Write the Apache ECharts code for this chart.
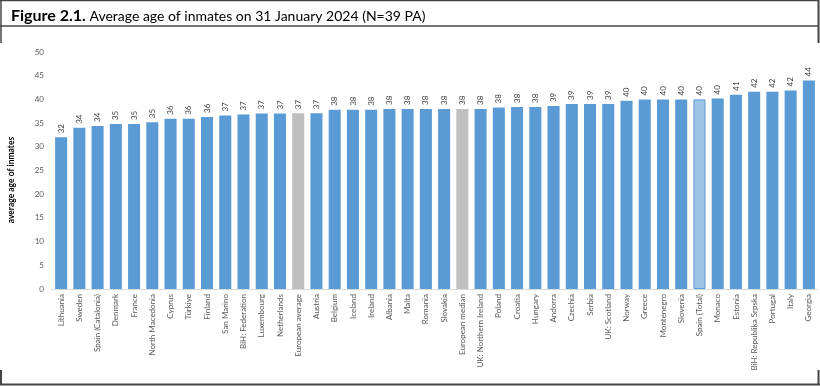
<!DOCTYPE html>
<html><head><meta charset="utf-8">
<script src="https://cdn.jsdelivr.net/npm/echarts@6/dist/echarts.min.js"></script>
<style>html,body{margin:0;padding:0;background:#fff}#c{width:820px;height:386px}</style>
</head><body><div id="c"></div>
<script>
const categories = ["Lithuania","Sweden","Spain (Catalonia)","Denmark","France","North Macedonia","Cyprus","Türkiye","Finland","San Marino","BiH: Federation","Luxembourg","Netherlands","European average","Austria","Belgium","Iceland","Ireland","Albania","Malta","Romania","Slovakia","European median","UK: Northern Ireland","Poland","Croatia","Hungary","Andorra","Czechia","Serbia","UK: Scotland","Norway","Greece","Montenegro","Slovenia","Spain (Total)","Monaco","Estonia","BiH: Republika Srpska","Portugal","Italy","Georgia"];
const values = [32.0,34.0,34.4,34.8,34.8,35.2,35.9,35.9,36.3,36.6,36.8,37.0,37.0,37.1,37.1,37.8,37.8,37.8,38.0,38.0,38.0,38.0,38.0,38.0,38.3,38.4,38.4,38.6,39.05,39.05,39.05,39.7,39.96,40.0,40.0,40.0,40.2,41.0,41.6,41.6,41.9,44.0];
const yTicks = [0,5,10,15,20,25,30,35,40,45,50];
const referenceCats = ["European average","European median"];
const highlightCats = ["Spain (Total)"];

const chart = echarts.init(document.getElementById('c'), null, {renderer:'canvas'});
const FONT = 'Lato';
const data = values.map((v,i)=>{
  const c = categories[i];
  let style = {color:'#5b9bd5'};
  if (referenceCats.includes(c)) style = {color:'#bfbfbf'};
  if (highlightCats.includes(c)) style = {color:'#9dc3e6', borderColor:'#5b9bd5', borderWidth:1};
  return {value:v, itemStyle:style};
});
chart.setOption({
  animation:false,
  backgroundColor:'#fff',
  title:{
    text:'{b|Figure 2.1.}{r| Average age of inmates on 31 January 2024 (N=39 PA)}',
    left:6, top:3,
    textStyle:{fontWeight:'normal', rich:{
      b:{fontFamily:FONT,fontWeight:'bold',fontSize:16,color:'#000'},
      r:{fontFamily:FONT,fontWeight:'normal',fontSize:14,color:'#000'}
    }}
  },
  grid:{left:52, right:2, top:52, bottom:97, containLabel:false},
  xAxis:{
    type:'category', data:categories,
    axisLine:{lineStyle:{color:'#d9d9d9'}},
    axisTick:{show:false},
    axisLabel:{rotate:90, interval:0, fontFamily:FONT, fontSize:8, color:'#595959', margin:5}
  },
  yAxis:{
    type:'value', min:0, max:50, interval:5,
    axisLine:{show:false}, axisTick:{show:false}, splitLine:{show:false},
    axisLabel:{fontFamily:FONT, fontSize:8, color:'#595959', margin:8,
      formatter:v=>yTicks.includes(v)?String(v):''}
  },
  series:[{
    type:'bar', data:data, barCategoryGap:'34%',
    label:{show:true, position:'top', rotate:90, align:'left', verticalAlign:'middle', distance:4,
      fontFamily:FONT, fontSize:8, color:'#404040',
      formatter:p=>String(Math.round(p.value))}
  }],
  graphic:[
    {type:'text', x:11, y:180, rotation:Math.PI/2, style:{text:'average age of inmates', font:'bold 8.5px Lato', fill:'#000', align:'center', verticalAlign:'middle'}},
    {type:'line', shape:{x1:0,y1:0.5,x2:819,y2:0.5}, style:{stroke:'#444',lineWidth:1.5}},
    {type:'line', shape:{x1:0,y1:26,x2:819,y2:26}, style:{stroke:'#444',lineWidth:1.5}},
    {type:'line', shape:{x1:1,y1:0,x2:1,y2:43}, style:{stroke:'#444',lineWidth:1.5}},
    {type:'line', shape:{x1:818.5,y1:0,x2:818.5,y2:43}, style:{stroke:'#444',lineWidth:2}},
    {type:'line', shape:{x1:1,y1:370,x2:1,y2:385}, style:{stroke:'#444',lineWidth:2}},
    {type:'line', shape:{x1:818.5,y1:370,x2:818.5,y2:385}, style:{stroke:'#444',lineWidth:2}},
    {type:'line', shape:{x1:0,y1:384.5,x2:820,y2:384.5}, style:{stroke:'#444',lineWidth:2}}
  ]
});
</script></body></html>
